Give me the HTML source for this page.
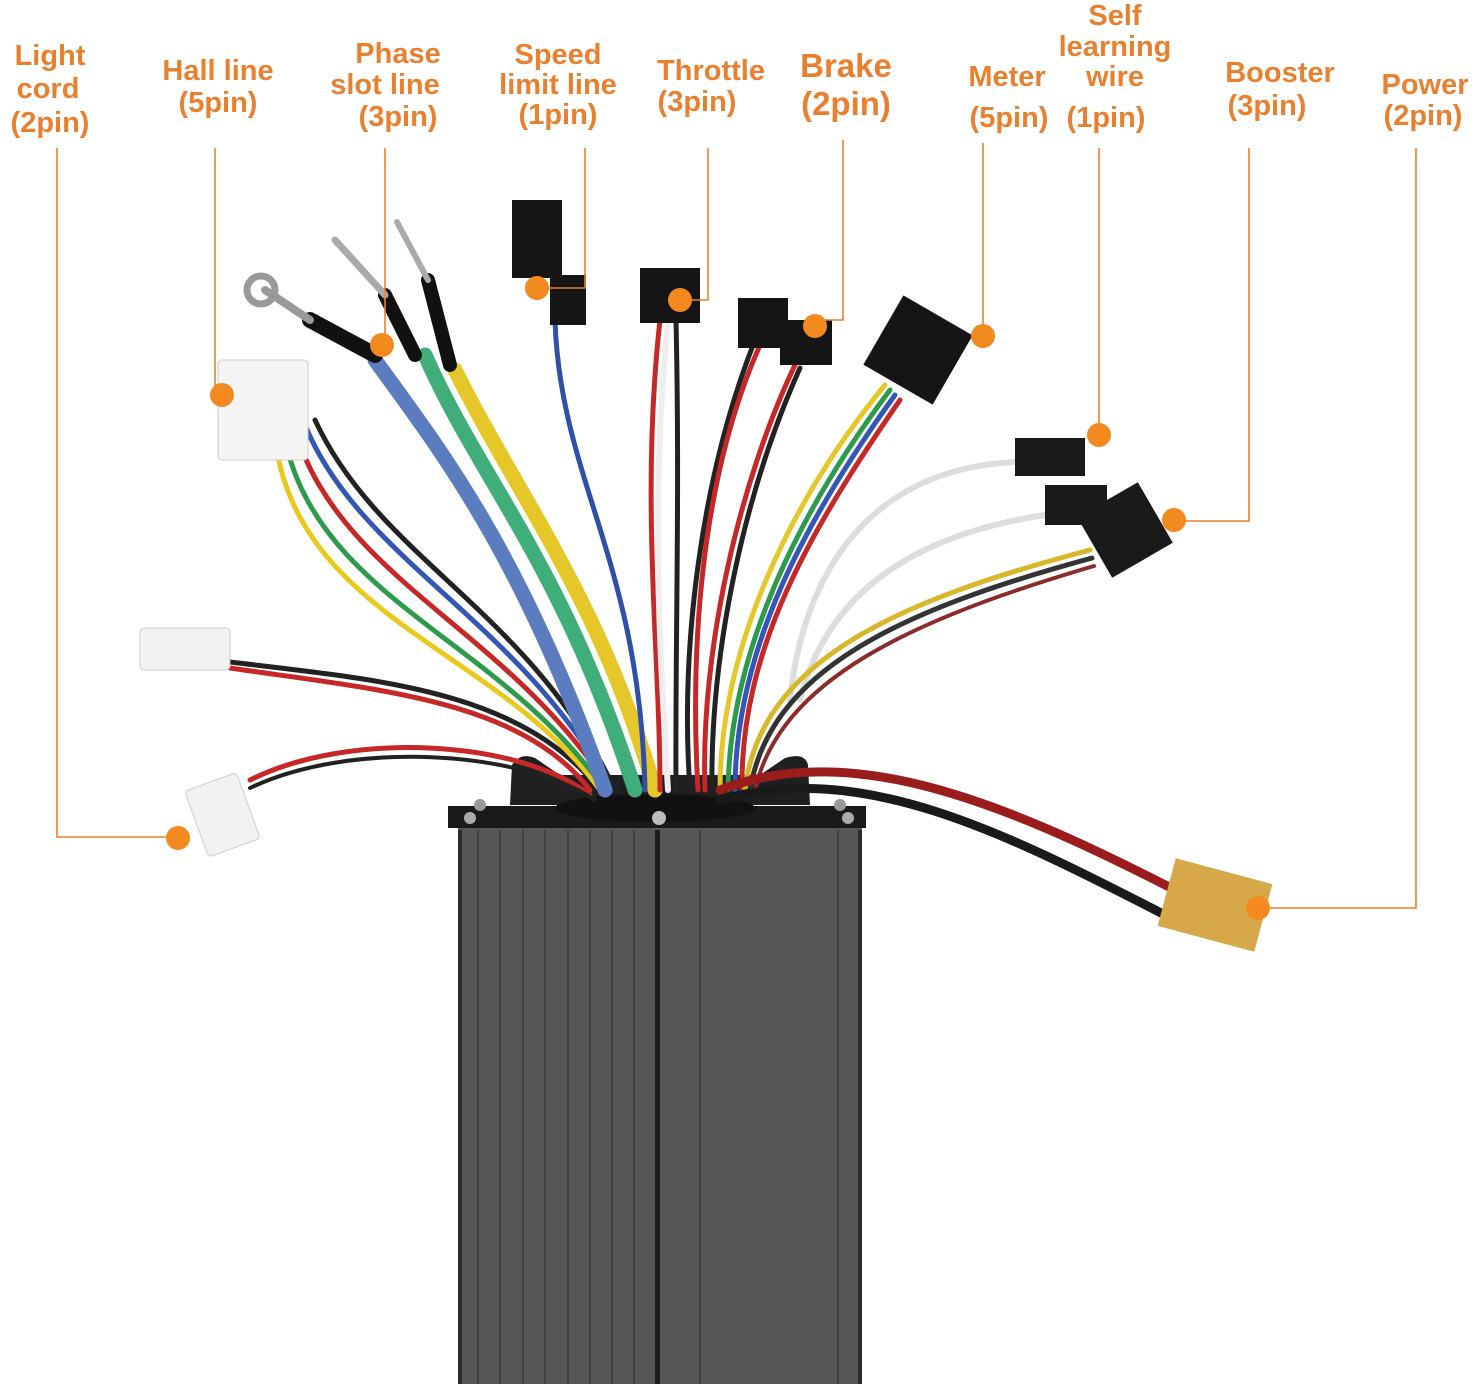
<!DOCTYPE html>
<html><head><meta charset="utf-8"><style>
html,body{margin:0;padding:0;background:#fff;}
svg{display:block;}
text{font-family:"Liberation Sans","DejaVu Sans",sans-serif;font-weight:bold;fill:#e8802f;font-size:29px;text-anchor:middle;}
</style></head><body>
<svg width="1474" height="1384" viewBox="0 0 1474 1384" xmlns="http://www.w3.org/2000/svg">
<text x="50" y="65">Light</text><text x="48" y="98">cord</text><text x="50" y="132">(2pin)</text>
<text x="218" y="80">Hall line</text><text x="218" y="112">(5pin)</text>
<text x="398" y="63">Phase</text><text x="385" y="94">slot line</text><text x="398" y="126">(3pin)</text>
<text x="558" y="64">Speed</text><text x="558" y="94">limit line</text><text x="558" y="124">(1pin)</text>
<text x="711" y="80">Throttle</text><text x="697" y="111">(3pin)</text>
<text x="846" y="77" style="font-size:33px">Brake</text><text x="846" y="115" style="font-size:33px">(2pin)</text>
<text x="1007" y="86">Meter</text><text x="1009" y="127">(5pin)</text>
<text x="1115" y="25">Self</text><text x="1115" y="56">learning</text><text x="1115" y="86">wire</text><text x="1106" y="127">(1pin)</text>
<text x="1280" y="82">Booster</text><text x="1267" y="115">(3pin)</text>
<text x="1425" y="94">Power</text><text x="1423" y="125">(2pin)</text>

<rect x="458" y="825" width="404" height="559" fill="#545658"/>
<g stroke="#3e4042" stroke-width="2">
<line x1="478" y1="830" x2="478" y2="1384"/><line x1="500" y1="830" x2="500" y2="1384"/>
<line x1="523" y1="830" x2="523" y2="1384"/><line x1="545" y1="830" x2="545" y2="1384"/>
<line x1="568" y1="830" x2="568" y2="1384"/><line x1="590" y1="830" x2="590" y2="1384"/>
<line x1="612" y1="830" x2="612" y2="1384"/><line x1="634" y1="830" x2="634" y2="1384"/>
<line x1="838" y1="830" x2="838" y2="1384"/><line x1="700" y1="830" x2="700" y2="1384"/>
</g>
<rect x="655" y="830" width="5" height="554" fill="#1c1d1e"/>
<rect x="458" y="830" width="4" height="554" fill="#2a2b2c"/>
<rect x="858" y="830" width="4" height="554" fill="#2a2b2c"/>
<path d="M510 805 L512 765 Q520 752 535 758 L560 775 L760 775 L785 758 Q805 752 808 765 L810 805 Z" fill="#1e1f20"/>
<rect x="448" y="806" width="418" height="22" fill="#1a1a1b"/>
<ellipse cx="655" cy="808" rx="100" ry="14" fill="#111"/>
<circle cx="480" cy="805" r="6" fill="#999"/><circle cx="470" cy="818" r="6" fill="#aaa"/>
<circle cx="840" cy="805" r="6" fill="#999"/><circle cx="848" cy="818" r="6" fill="#aaa"/>
<circle cx="659" cy="818" r="7" fill="#bbb"/>

<g fill="none" stroke-linecap="round">
<path d="M230 668 C380 690 520 700 590 790" stroke="#c62828" stroke-width="5"/>
<path d="M230 662 C380 680 520 690 600 790" stroke="#222" stroke-width="5"/>
<path d="M250 780 C350 730 520 740 590 795" stroke="#c62828" stroke-width="5"/>
<path d="M250 788 C350 740 520 750 595 800" stroke="#222" stroke-width="4"/>
<path d="M275 440 C300 620 500 650 600 790" stroke="#e9c91e" stroke-width="5"/>
<path d="M285 440 C320 600 500 640 605 790" stroke="#2e9b4c" stroke-width="5"/>
<path d="M295 430 C340 580 510 630 610 790" stroke="#c62828" stroke-width="5"/>
<path d="M305 425 C360 560 520 620 612 790" stroke="#3456b5" stroke-width="5"/>
<path d="M315 420 C380 560 530 610 615 790" stroke="#222" stroke-width="5"/>
<path d="M375 360 C440 450 520 550 605 790" stroke="#5b7cbf" stroke-width="15"/>
<path d="M425 355 C480 480 560 560 635 790" stroke="#3fae7a" stroke-width="15"/>
<path d="M455 370 C520 500 600 600 655 790" stroke="#e6c72a" stroke-width="15"/>
<path d="M310 320 L375 355" stroke="#111" stroke-width="16"/>
<path d="M385 295 L415 355" stroke="#111" stroke-width="14"/>
<path d="M428 280 L450 365" stroke="#111" stroke-width="14"/>
<path d="M265 290 L310 320" stroke="#999" stroke-width="8"/>
<path d="M335 240 L385 295" stroke="#aaa" stroke-width="7"/>
<path d="M397 222 L428 280" stroke="#aaa" stroke-width="6"/>
<path d="M555 320 C560 480 640 560 645 790" stroke="#2f4fa8" stroke-width="5"/>
<path d="M660 320 C640 500 660 650 660 790" stroke="#c62828" stroke-width="5"/>
<path d="M668 320 C650 500 660 650 668 790" stroke="#eee" stroke-width="6"/>
<path d="M676 320 C680 500 675 650 676 790" stroke="#222" stroke-width="5"/>
<path d="M755 340 C700 480 680 650 690 790" stroke="#222" stroke-width="5"/>
<path d="M760 345 C700 480 690 650 698 790" stroke="#c62828" stroke-width="5"/>
<path d="M795 365 C740 480 700 650 705 790" stroke="#c62828" stroke-width="5"/>
<path d="M800 368 C745 490 710 650 712 790" stroke="#222" stroke-width="5"/>
<path d="M885 385 C790 500 720 650 720 790" stroke="#e6c72a" stroke-width="5"/>
<path d="M890 390 C800 510 730 650 728 790" stroke="#2e9b4c" stroke-width="5"/>
<path d="M895 395 C805 520 735 650 735 790" stroke="#3456b5" stroke-width="5"/>
<path d="M900 400 C810 530 740 650 742 790" stroke="#c62828" stroke-width="5"/>
<path d="M1015 462 C850 470 800 600 790 700" stroke="#ddd" stroke-width="6"/>
<path d="M1045 515 C880 540 820 620 800 700" stroke="#ddd" stroke-width="6"/>
<path d="M1090 550 C900 600 760 660 745 790" stroke="#d6b82a" stroke-width="5"/>
<path d="M1092 558 C900 610 770 670 750 790" stroke="#333" stroke-width="5"/>
<path d="M1094 566 C910 620 780 680 755 790" stroke="#8b2b2b" stroke-width="4"/>
<path d="M720 790 C850 740 1000 800 1175 890" stroke="#9b1c1c" stroke-width="9"/>
<path d="M720 800 C860 760 1000 830 1165 915" stroke="#1a1a1a" stroke-width="9"/>
</g>
<rect x="140" y="628" width="90" height="42" rx="4" fill="#f2f2f2" stroke="#ccc"/>
<rect x="195" y="780" width="55" height="70" rx="4" fill="#f2f2f2" stroke="#ccc" transform="rotate(-20 222 815)"/>
<rect x="218" y="360" width="90" height="100" rx="4" fill="#f4f4f4" stroke="#ccc"/>
<circle cx="261" cy="290" r="14" fill="none" stroke="#999" stroke-width="7"/>
<rect x="512" y="200" width="50" height="78" fill="#151515"/>
<rect x="550" y="275" width="36" height="50" fill="#151515"/>
<rect x="640" y="268" width="60" height="55" fill="#151515"/>
<rect x="738" y="298" width="50" height="50" fill="#151515"/>
<rect x="780" y="320" width="52" height="45" fill="#151515"/>
<rect x="878" y="310" width="80" height="80" fill="#151515" transform="rotate(30 918 350)"/>
<rect x="1015" y="438" width="70" height="38" fill="#1a1a1a"/>
<rect x="1045" y="485" width="62" height="40" fill="#1a1a1a"/>
<rect x="1090" y="495" width="70" height="70" fill="#1a1a1a" transform="rotate(-30 1125 530)"/>
<rect x="1165" y="870" width="100" height="70" fill="#d7a84a" transform="rotate(15 1215 905)"/>

<g fill="none" stroke="#e8802f" stroke-width="1.6">
<path d="M57 148 V837 H178"/>
<path d="M215 148 V395"/>
<path d="M385 148 V345"/>
<path d="M585 148 V288 H537"/>
<path d="M708 148 V300 H680"/>
<path d="M843 140 V320 H815"/>
<path d="M983 143 V336"/>
<path d="M1099 148 V435"/>
<path d="M1249 148 V521 H1174"/>
<path d="M1416 148 V908 H1258"/>
</g>
<g fill="#f28a1f">
<circle cx="178" cy="838" r="12"/><circle cx="222" cy="395" r="12"/><circle cx="382" cy="345" r="12"/>
<circle cx="537" cy="288" r="12"/><circle cx="680" cy="300" r="12"/><circle cx="815" cy="326" r="12"/>
<circle cx="983" cy="336" r="12"/><circle cx="1099" cy="435" r="12"/><circle cx="1174" cy="520" r="12"/>
<circle cx="1258" cy="908" r="12"/>
</g>
</svg>
</body></html>
